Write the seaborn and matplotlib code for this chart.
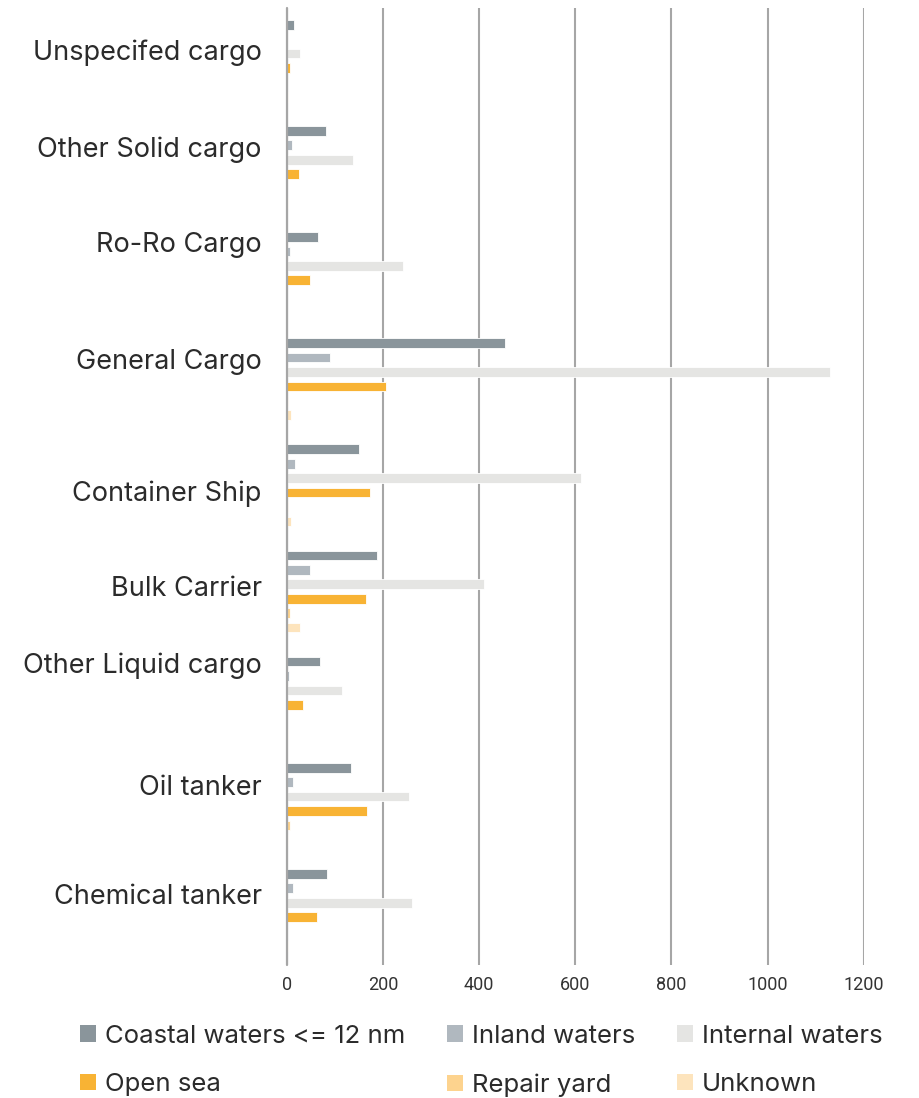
import numpy as np
import pandas as pd
import matplotlib
matplotlib.use("Agg")
import matplotlib.pyplot as plt
import seaborn as sns
from matplotlib.patches import Patch

categories = ["Unspecifed cargo", "Other Solid cargo", "Ro-Ro Cargo", "General Cargo",
              "Container Ship", "Bulk Carrier", "Other Liquid cargo", "Oil tanker",
              "Chemical tanker"]
series = ["Coastal waters <= 12 nm", "Inland waters", "Internal waters",
          "Open sea", "Repair yard", "Unknown"]
coastal  = [15, 81, 64, 454, 150, 188, 70, 133, 83]
inland   = [0, 12, 7, 89, 17, 48, 5, 14, 13]
internal = [28, 137, 242, 1130, 612, 410, 114, 254, 261]
open_sea = [6, 26, 49, 206, 173, 164, 33, 166, 62]
repair   = [0, 0, 0, 3, 3, 6, 0, 6, 0]
unknown  = [3, 3, 0, 9, 9, 28, 3, 3, 3]
xticks = [0, 200, 400, 600, 800, 1000, 1200]
colors = ["#8a959b", "#b0b8bf", "#e5e5e3", "#f8b334", "#fdd38e", "#fde4bd"]
# vertical label offsets (in category units) to mimic the reference layout
label_offsets = [-0.10, -0.19, -0.29, -0.19, 0.05, -0.05, -0.33, -0.18, -0.15]

values = [coastal, inland, internal, open_sea, repair, unknown]
rows = []
for s, vals in zip(series, values):
    for c, v in zip(categories, vals):
        rows.append({"category": c, "series": s, "value": v})
df = pd.DataFrame(rows)

sns.set_theme(style="white")
plt.rcParams['font.family'] = ['Inter', 'DejaVu Sans']

fig = plt.figure(figsize=(9.19, 10.98), dpi=100)
ax = fig.add_axes([0.312, 0.121, 0.628, 0.872])

sns.barplot(data=df, y="category", x="value", hue="series", order=categories,
            hue_order=series, palette=colors, saturation=1, orient="h",
            width=0.815, gap=0.33, edgecolor="white", linewidth=0.6, ax=ax,
            legend=False, errorbar=None)

ax.set_xlim(0, 1200)
ax.set_ylim(8.52, -0.5)
ax.set_xticks(xticks)
ax.set_xticklabels([str(t) for t in xticks], fontsize=13, color="#333333",
                   family=['Liberation Sans Narrow', 'Roboto', 'DejaVu Sans'])
ax.set_yticks(np.arange(len(categories)) + np.array(label_offsets))
ax.set_yticklabels(categories, fontsize=19.5, color="#2b2b2b")
ax.tick_params(axis="y", length=0, pad=18)
ax.tick_params(axis="x", length=0, pad=8)
ax.set_xlabel("")
ax.set_ylabel("")
for sp in ax.spines.values():
    sp.set_visible(False)
ax.grid(axis="x", color="#a6a6a6", linewidth=1.5)
ax.grid(axis="y", visible=False)
ax.set_axisbelow(True)
ax.axvline(0, color="#a6a6a6", linewidth=1.6, zorder=5, clip_on=False)

handles = [Patch(facecolor=c, edgecolor="none") for c in colors]
order = [0, 3, 1, 4, 2, 5]
leg = fig.legend([handles[i] for i in order], [series[i] for i in order],
                 ncol=3, loc="lower left", bbox_to_anchor=(0.062, -0.020),
                 frameon=False, fontsize=18.5, handlelength=0.6, handleheight=0.6,
                 handletextpad=0.35, columnspacing=1.65, labelspacing=1.0,
                 labelcolor="#2b2b2b")

fig.savefig("out.png", dpi=100)
